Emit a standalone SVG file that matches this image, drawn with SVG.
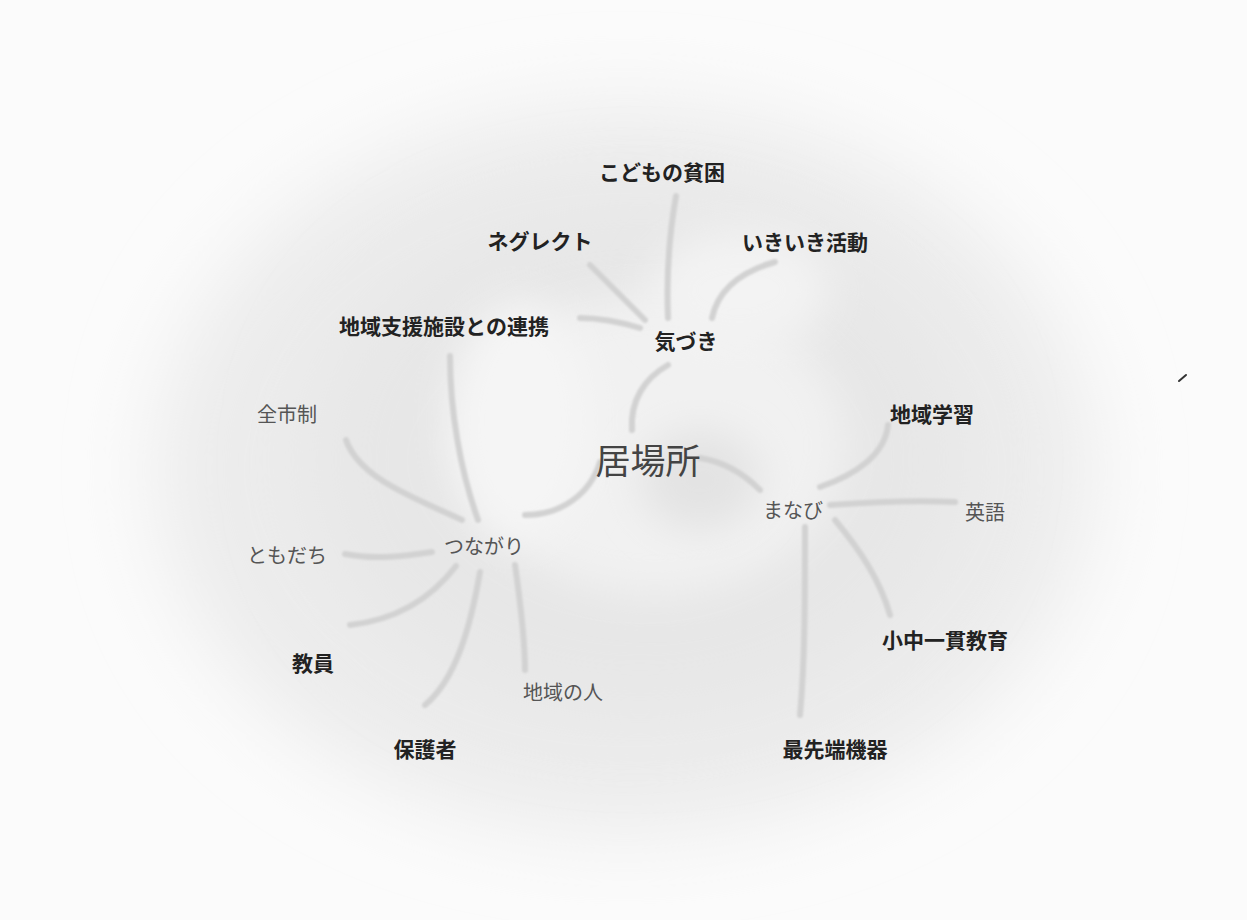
<svg xmlns="http://www.w3.org/2000/svg" width="1247" height="920" viewBox="0 0 1247 920">
<defs>
<filter id="blurBig" x="-30%" y="-30%" width="160%" height="160%"><feGaussianBlur stdDeviation="40"/></filter>
<filter id="blurMid" x="-30%" y="-30%" width="160%" height="160%"><feGaussianBlur stdDeviation="20"/></filter>
<filter id="soft" x="-10%" y="-10%" width="120%" height="120%"><feGaussianBlur stdDeviation="1.2"/></filter>
<style>
.bold{font-family:"Noto Sans CJK JP","Noto Sans",sans-serif;font-weight:700;font-size:21px;fill:#222;text-anchor:middle;dominant-baseline:central}
.reg{font-family:"Noto Sans CJK JP","Noto Sans",sans-serif;font-weight:400;font-size:20px;fill:#555;text-anchor:middle;dominant-baseline:central}
.center{font-family:"Noto Sans CJK JP","Noto Sans",sans-serif;font-weight:400;font-size:35px;fill:#444;text-anchor:middle;dominant-baseline:central}
.link{fill:none;stroke:#d2d2d2;stroke-width:6;stroke-linecap:round}
</style>
</defs>
<rect width="1247" height="920" fill="#fbfbfb"/>
<g id="background">
<ellipse cx="625" cy="470" rx="470" ry="365" fill="#ececec" filter="url(#blurBig)"/>
<ellipse cx="640" cy="460" rx="330" ry="260" fill="#e7e7e7" filter="url(#blurBig)"/>
<ellipse cx="655" cy="445" rx="190" ry="150" fill="#f1f1f1" filter="url(#blurMid)"/>
<ellipse cx="520" cy="420" rx="70" ry="120" fill="#f5f5f5" filter="url(#blurMid)"/>
<ellipse cx="740" cy="290" rx="90" ry="60" fill="#f3f3f3" filter="url(#blurMid)"/>
<ellipse cx="700" cy="480" rx="60" ry="50" fill="#e3e3e3" filter="url(#blurMid)"/>
</g>
<g id="connectors" filter="url(#soft)">
<path class="link" d="M668,318 C666,270 670,230 676,196"/>
<path class="link" d="M645,320 C625,300 605,280 590,265"/>
<path class="link" d="M712,318 C718,290 740,272 775,262"/>
<path class="link" d="M640,328 C620,322 600,318 580,318"/>
<path class="link" d="M632,430 C630,400 645,378 668,365"/>
<path class="link" d="M600,462 C590,495 560,515 525,515"/>
<path class="link" d="M700,458 C725,462 745,475 760,490"/>
<path class="link" d="M478,520 C460,470 450,410 450,356"/>
<path class="link" d="M462,520 C420,500 360,480 346,440"/>
<path class="link" d="M345,554 C375,560 405,556 432,552"/>
<path class="link" d="M456,566 C430,600 395,620 350,625"/>
<path class="link" d="M480,572 C470,630 455,680 425,705"/>
<path class="link" d="M515,565 C520,600 525,640 525,670"/>
<path class="link" d="M820,487 C855,475 885,455 888,425"/>
<path class="link" d="M830,505 C870,502 915,500 955,502"/>
<path class="link" d="M835,520 C860,550 880,580 890,615"/>
<path class="link" d="M805,527 C805,600 805,660 800,715"/>
</g>
<g id="node-ibasho"><text class="center" x="648" y="458">居場所</text></g>
<g id="node-kizuki"><text class="bold" x="686" y="340">気づき</text></g>
<g id="node-hinkon"><text class="bold" x="662" y="171">こどもの貧困</text></g>
<g id="node-neglect"><text class="bold" x="540" y="240">ネグレクト</text></g>
<g id="node-ikiiki"><text class="bold" x="805" y="241">いきいき活動</text></g>
<g id="node-renkei"><text class="bold" x="444" y="325">地域支援施設との連携</text></g>
<g id="node-tsunagari"><text class="reg" x="484" y="545">つながり</text></g>
<g id="node-zenshisei"><text class="reg" x="287" y="413">全市制</text></g>
<g id="node-tomodachi"><text class="reg" x="287" y="554">ともだち</text></g>
<g id="node-kyoin"><text class="bold" x="313" y="662">教員</text></g>
<g id="node-hogosha"><text class="bold" x="425" y="748">保護者</text></g>
<g id="node-chiikinohito"><text class="reg" x="563" y="691">地域の人</text></g>
<g id="node-manabi"><text class="reg" x="793" y="509">まなび</text></g>
<g id="node-chiikigakushu"><text class="bold" x="932" y="413">地域学習</text></g>
<g id="node-eigo"><text class="reg" x="985" y="511">英語</text></g>
<g id="node-ikkan"><text class="bold" x="945" y="639">小中一貫教育</text></g>
<g id="node-saisentan"><text class="bold" x="835" y="748">最先端機器</text></g>
<path d="M1179,381 L1186,375" stroke="#333" stroke-width="2" stroke-linecap="round"/>
</svg>
